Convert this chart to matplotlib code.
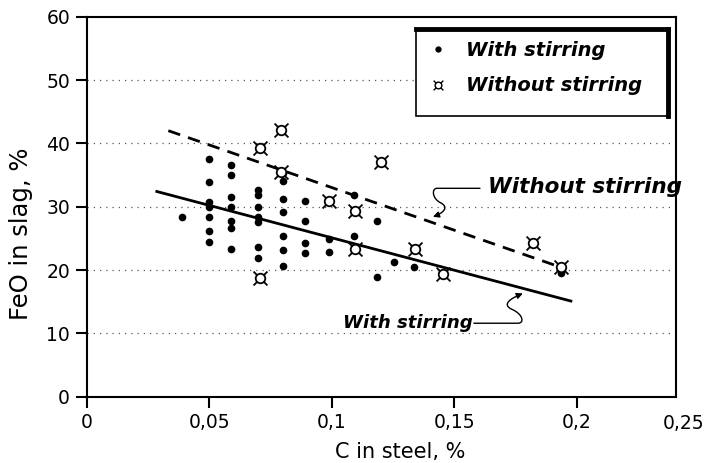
import matplotlib
matplotlib.use("Agg")
import matplotlib.pyplot as plt
from matplotlib.path import Path
from matplotlib.patches import FancyArrowPatch, Rectangle
from matplotlib.lines import Line2D
import matplotlib.transforms as mtransforms

# with stirring (filled dots)
stir_c = [0.039,
          0.05, 0.05, 0.05, 0.05, 0.05, 0.05, 0.05,
          0.059, 0.059, 0.059, 0.059, 0.059, 0.059, 0.059,
          0.07, 0.07, 0.07, 0.07, 0.07, 0.07, 0.07,
          0.08, 0.08, 0.08, 0.08, 0.08, 0.08, 0.08,
          0.089, 0.089, 0.089, 0.089,
          0.099, 0.099,
          0.109, 0.109,
          0.1186, 0.1186,
          0.1256, 0.1336, 0.1936]
stir_feo = [28.3,
            37.6, 33.9, 30.8, 30.0, 28.4, 26.2, 24.4,
            36.6, 35.0, 31.6, 30.0, 27.8, 26.7, 23.3,
            32.6, 31.8, 30.0, 28.3, 27.6, 23.7, 21.9,
            35.3, 34.1, 31.2, 29.1, 25.3, 23.2, 20.6,
            30.9, 27.7, 24.3, 22.7,
            24.9, 22.9,
            31.8, 25.3,
            27.7, 18.9,
            21.2, 20.4, 19.6]

# without stirring (open symbols)
nostir_c = [0.0707, 0.0707, 0.0793, 0.0793, 0.099, 0.1095, 0.1095,
            0.12, 0.134, 0.1453, 0.182, 0.1936]
nostir_feo = [39.3, 18.7, 42.1, 35.5, 30.9, 29.3, 23.3,
              37.0, 23.3, 19.3, 24.3, 20.4]

# regression lines (end points)
fit_nostir_c = [0.0333, 0.1945]
fit_nostir_feo = [42.0, 20.3]
fit_stir_c = [0.0286, 0.1976]
fit_stir_feo = [32.4, 15.1]

xticks = [0, 0.05, 0.1, 0.15, 0.2]
xtick_labels = ["0", "0,05", "0,1", "0,15", "0,2"]
yticks = [0, 10, 20, 30, 40, 50, 60]

plt.rcParams['font.family'] = ['DejaVu Sans']

# currency-sign like marker: ring with four diagonal prongs
circ = Path.circle((0, 0), 0.55)
verts = list(circ.vertices)
codes = list(circ.codes)
for sx, sy in [(1, 1), (-1, 1), (1, -1), (-1, -1)]:
    verts += [(0.39 * sx, 0.39 * sy), (0.8 * sx, 0.8 * sy)]
    codes += [Path.MOVETO, Path.LINETO]
curr_marker = Path(verts, codes)

fig = plt.figure(figsize=(7.08, 4.63), dpi=100)
ax = fig.add_axes([0.1225, 0.1432, 0.8323, 0.8208])

for y in yticks[1:-1]:
    ax.axhline(y, color='0.35', lw=0.9, ls=(0, (1, 4)), zorder=0)

ax.plot(fit_nostir_c, fit_nostir_feo, color='black', lw=2.0, ls=(0, (4.5, 3)))
ax.plot(fit_stir_c, fit_stir_feo, color='black', lw=2.0)

h1, = ax.plot(stir_c, stir_feo, 'o', color='black', ms=4.5, ls='none', zorder=3)
h2, = ax.plot(nostir_c, nostir_feo, marker=curr_marker, ms=10, ls='none',
              mfc='white', mec='black', mew=1.3, zorder=4)

ax.set_xlim(0, 0.2405)
ax.set_ylim(0, 60)
ax.set_xticks(xticks)
ax.set_xticklabels(xtick_labels)
ax.set_yticks(yticks)
ax.tick_params(direction='out', length=8, width=1.5, labelsize=13.5, pad=4)
for s in ax.spines.values():
    s.set_linewidth(1.5)

ax.text(0.2434, -0.07, "0,25", transform=mtransforms.blended_transform_factory(ax.transData, ax.transAxes),
        ha='center', va='center', fontsize=13.5)

ax.set_xlabel("C in steel, %", fontsize=15)
ax.xaxis.set_label_coords(0.532, -0.12)
ax.set_ylabel("FeO in slag, %", fontsize=17.5)
ax.yaxis.set_label_coords(-0.091, 0.43)

# annotations with curly arrows
ax.text(0.1638, 33.1, "Without stirring", fontsize=15.5, fontweight='bold', style='italic',
        ha='left', va='center')
p1 = Path([(0.1605, 32.9), (0.1429, 32.9),
           (0.1408, 32.9), (0.1408, 31.3), (0.1445, 30.6),
           (0.1480, 29.9), (0.1455, 29.0), (0.1413, 28.4)],
          [Path.MOVETO, Path.LINETO, Path.CURVE4, Path.CURVE4, Path.CURVE4,
           Path.CURVE4, Path.CURVE4, Path.CURVE4])
ax.add_patch(FancyArrowPatch(path=p1, arrowstyle='-|>', mutation_scale=9, color='black', lw=1.0))

ax.text(0.1577, 11.7, "With stirring", fontsize=13.1, fontweight='bold', style='italic',
        ha='right', va='center')
p2 = Path([(0.1580, 11.6), (0.1760, 11.6),
           (0.1787, 11.6), (0.1782, 13.0), (0.1735, 13.8),
           (0.1690, 14.6), (0.1735, 15.6), (0.1780, 16.3)],
          [Path.MOVETO, Path.LINETO, Path.CURVE4, Path.CURVE4, Path.CURVE4,
           Path.CURVE4, Path.CURVE4, Path.CURVE4])
ax.add_patch(FancyArrowPatch(path=p2, arrowstyle='-|>', mutation_scale=9, color='black', lw=1.0))

leg = ax.legend([h1, h2], ["With stirring", "Without stirring"],
                loc='upper left', bbox_to_anchor=(0.558, 0.967, 0.4285, 0.0), mode='expand',
                frameon=False, borderpad=0.6,
                labelspacing=0.85, handlelength=1.1, handletextpad=0.9, borderaxespad=0,
                prop={'weight': 'bold', 'style': 'italic', 'size': 14})
leg.set_zorder(6)
leg.legend_handles[0].set_markersize(3.5)
leg.legend_handles[1].set_markersize(7)
leg.legend_handles[1].set_markeredgewidth(1.0)

# legend frame: taller at the bottom, heavy top and right edges
fig.canvas.draw()
bb = leg.get_window_extent()
fw, fh = fig.bbox.width, fig.bbox.height
x0, x1 = bb.x0 / fw, bb.x1 / fw
y0, y1 = (bb.y0 - 9) / fh, bb.y1 / fh
ax.add_patch(Rectangle((x0, y0), x1 - x0, y1 - y0, transform=fig.transFigure,
                       facecolor='white', edgecolor='black', lw=1.2, zorder=5, clip_on=False))
ax.add_line(Line2D([x0, x1], [y1, y1], color='black', lw=3.5, transform=fig.transFigure,
                   zorder=5.5, clip_on=False))
ax.add_line(Line2D([x1, x1], [y0, y1], color='black', lw=3.5, transform=fig.transFigure,
                   zorder=5.5, clip_on=False))

fig.savefig("out.png", dpi=100)
